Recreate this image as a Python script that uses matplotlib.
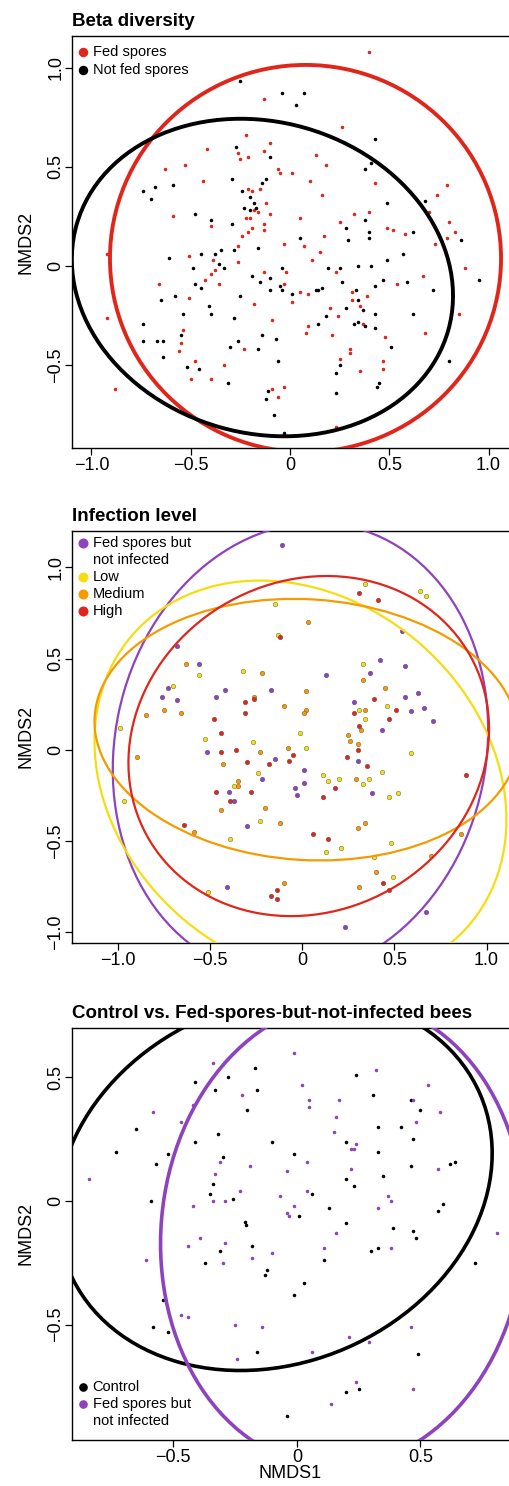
import numpy as np
import matplotlib
matplotlib.use('Agg')
import matplotlib.pyplot as plt
from matplotlib.patches import Ellipse
from matplotlib.ticker import FuncFormatter

plt.rcParams['font.family'] = ['Liberation Sans', 'DejaVu Sans']
plt.rcParams['axes.linewidth'] = 1.0

# ---- panel 1: beta diversity ----
fed_x = [0.40, -0.13, 0.26, -0.22, -0.10, -0.42, -0.13, -0.26, -0.25, -0.21, 0.13, -0.63, -0.53, -0.06, -0.05, 0.01,
         0.18, -0.44, 0.10, 0.43, -0.21, -0.19, -0.15, 0.16, 0.79, 0.74, -0.12, -0.18, -0.16, -0.10, -0.59, 0.32,
         0.40, 0.70, -0.22, -0.20, 0.05, 0.25, 0.80, -0.40, -0.13, -0.13, -0.19, -0.21, 0.49, 0.52, 0.83, -0.24,
         0.17, 0.58, 0.79, -0.26, -0.03, 0.07, 0.73, 0.15, -0.92, -0.51, -0.39, 0.11, -0.26, -0.38, -0.40, 0.88,
         -0.13, -0.02, 0.23, -0.43, -0.66, -0.36, -0.03, 0.54, 0.67, 0.05, 0.09, 0.31, -0.51, 0.39, 0.31, -0.18,
         0.01, 0.20, 0.35, 0.24, 0.85, -0.92, -0.09, 0.09, 0.08, 0.37, 0.21, 0.68, -0.54, -0.55, 0.48, -0.56,
         -0.23, 0.30, 0.30, 0.25, -0.48, -0.33, 0.47, 0.47, 0.35, -0.50, -0.40, -0.09, -0.03, -0.88, -0.06, 0.23,
         -0.39]
fed_y = [1.08, 0.84, 0.70, 0.66, 0.62, 0.59, 0.58, 0.57, 0.54, 0.55, 0.56, 0.49, 0.51, 0.49, 0.47, 0.47,
         0.51, 0.43, 0.43, 0.42, 0.39, 0.38, 0.39, 0.36, 0.41, 0.36, 0.32, 0.28, 0.27, 0.26, 0.25, 0.26,
         0.27, 0.27, 0.24, 0.24, 0.24, 0.22, 0.22, 0.20, 0.21, 0.18, 0.19, 0.17, 0.19, 0.18, 0.17, 0.15,
         0.15, 0.16, 0.14, 0.10, 0.11, 0.10, 0.11, 0.07, 0.06, 0.05, 0.03, 0.03, 0.02, -0.02, -0.04, -0.01,
         -0.03, -0.03, -0.03, -0.07, -0.09, -0.09, -0.09, -0.09, -0.05, -0.13, -0.14, -0.13, -0.16, -0.15, -0.17, -0.19,
         -0.18, -0.21, -0.20, -0.25, -0.24, -0.26, -0.27, -0.30, -0.34, -0.29, -0.35, -0.34, -0.32, -0.39, -0.36, -0.43,
         -0.42, -0.42, -0.44, -0.47, -0.48, -0.50, -0.48, -0.52, -0.53, -0.57, -0.57, -0.62, -0.61, -0.62, -0.66, -0.81,
         -0.80]
notfed_x = [-0.25, -0.04, 0.07, 0.03, 0.43, -0.27, -0.10, 0.41, 0.38, -0.29, -0.12, -0.14, -0.74, -0.68, -0.59, -0.70,
            -0.24, -0.20, -0.18, -0.17, -0.23, -0.20, -0.48, -0.40, -0.29, 0.68, 0.49, 0.28, 0.38, 0.40, 0.40, 0.05,
            0.29, 0.62, 0.86, -0.16, -0.35, -0.28, -0.38, -0.45, -0.61, 0.57, 0.49, -0.36, -0.33, -0.49, -0.04, 0.19,
            0.25, 0.34, 0.41, -0.19, -0.10, -0.15, 0.26, 0.47, 0.59, 0.95, -0.48, -0.45, -0.05, -0.04, -0.10, 0.01,
            0.13, 0.14, 0.16, 0.33, 0.43, 0.72, -0.25, -0.58, -0.65, -0.41, 0.34, -0.40, -0.54, 0.28, 0.37, 0.43,
            0.62, -0.28, 0.18, 0.14, 0.32, 0.34, 0.38, -0.74, 0.43, -0.74, -0.67, -0.64, -0.55, -0.14, -0.07, -0.26,
            -0.30, -0.16, 0.51, -0.64, -0.06, 0.80, -0.52, -0.46, 0.25, 0.23, -0.31, 0.45, 0.44, -0.11, -0.12, 0.23,
            -0.08, -0.03]
notfed_y = [0.93, 0.87, 0.87, 0.81, 0.64, 0.60, 0.55, 0.52, 0.49, 0.44, 0.44, 0.42, 0.38, 0.40, 0.41, 0.34,
            0.38, 0.35, 0.32, 0.29, 0.29, 0.28, 0.26, 0.23, 0.21, 0.33, 0.32, 0.19, 0.23, 0.17, 0.14, 0.14,
            0.13, 0.17, 0.13, 0.09, 0.08, 0.08, 0.06, 0.06, 0.04, 0.06, 0.03, 0.01, -0.01, -0.01, -0.01, -0.01,
            -0.01, 0.00, 0.00, -0.05, -0.06, -0.08, -0.08, -0.07, -0.08, -0.07, -0.09, -0.11, -0.10, -0.12, -0.12, -0.14,
            -0.12, -0.12, -0.11, -0.12, -0.10, -0.12, -0.15, -0.15, -0.17, -0.20, -0.17, -0.24, -0.24, -0.21, -0.22, -0.24,
            -0.24, -0.26, -0.25, -0.29, -0.29, -0.28, -0.30, -0.29, -0.31, -0.38, -0.38, -0.38, -0.35, -0.35, -0.37, -0.38,
            -0.41, -0.42, -0.41, -0.46, -0.48, -0.48, -0.51, -0.52, -0.50, -0.54, -0.59, -0.59, -0.61, -0.63, -0.67, -0.64,
            -0.75, -0.84]

# ---- panel 2: infection level ----
noinf_x = [-0.11, 0.54, -0.68, -0.56, -0.76, -0.73, -0.68, -0.47, -0.42, -0.17, 0.13, 0.42, 0.37, 0.56, 0.63, 0.56,
           0.59, 0.66, 0.71, 0.28, 0.43, -0.52, -0.15, -0.22, 0.01, -0.04, -0.03, 0.01, 0.30, 0.38, -0.40, -0.37,
           -0.30, -0.41, 0.67, 0.23]
noinf_y = [1.12, 0.65, 0.57, 0.47, 0.29, 0.34, 0.27, 0.29, 0.33, 0.33, 0.41, 0.49, 0.42, 0.46, 0.31, 0.29,
           0.21, 0.23, 0.16, 0.26, 0.11, -0.01, -0.05, -0.16, -0.11, -0.21, -0.25, -0.18, -0.06, -0.24, -0.23, -0.28,
           -0.42, -0.75, -0.89, -0.97]
low_x = [0.34, 0.64, 0.67, -0.15, -0.13, -0.32, -0.56, -0.70, 0.33, 0.46, 0.34, 0.31, -0.01, -0.99, -0.53, -0.27,
         0.02, 0.59, -0.24, -0.37, 0.11, 0.14, 0.20, 0.33, 0.36, 0.43, 0.52, 0.47, -0.97, -0.23, -0.39, 0.48,
         0.13, 0.21, 0.39, 0.49, -0.51]
low_y = [0.91, 0.87, 0.84, 0.80, 0.63, 0.43, 0.41, 0.35, 0.47, 0.24, 0.17, 0.22, 0.09, 0.12, 0.06, 0.04,
         0.01, -0.02, -0.13, -0.20, -0.14, -0.17, -0.16, -0.19, -0.16, -0.12, -0.24, -0.26, -0.28, -0.39, -0.49, -0.51,
         -0.56, -0.54, -0.59, -0.70, -0.78]
med_x = [0.03, -0.63, -0.22, 0.02, 0.33, 0.45, -0.26, -0.75, -0.85, -0.66, -0.10, 0.02, 0.01, 0.34, 0.32, 0.25,
         0.26, 0.30, -0.08, -0.23, -0.90, -0.43, -0.35, -0.35, 0.29, -0.44, -0.20, -0.12, -0.59, 0.30, 0.34, 0.70,
         0.86, 0.40, -0.10, 0.31]
med_y = [0.70, 0.47, 0.42, 0.32, 0.38, 0.34, 0.29, 0.22, 0.19, 0.20, 0.24, 0.22, 0.20, 0.22, 0.11, 0.08,
         0.05, 0.03, 0.01, -0.01, -0.04, -0.08, -0.17, -0.20, -0.16, -0.33, -0.32, -0.40, -0.45, -0.43, -0.40, -0.58,
         -0.46, -0.67, -0.73, -0.75]
high_x = [0.31, 0.41, -0.12, -0.31, -0.26, -0.31, -0.48, -0.44, 0.28, 0.39, 0.51, 0.47, 0.31, -0.44, -0.36, 0.30,
          -0.05, -0.07, 0.24, -0.30, -0.18, 0.35, 0.89, -0.47, -0.28, -0.39, 0.11, 0.18, -0.64, 0.06, 0.14, -0.17,
          -0.14, -0.14, 0.44, 0.47]
high_y = [0.86, 0.82, 0.62, 0.26, 0.28, 0.20, 0.17, 0.09, 0.20, 0.28, 0.22, 0.17, 0.13, -0.01, 0.00, 0.00,
          -0.03, -0.06, -0.04, -0.07, -0.08, -0.09, -0.14, -0.23, -0.23, -0.28, -0.26, -0.21, -0.41, -0.46, -0.49, -0.80,
          -0.77, -0.82, -0.73, -0.77]

# ---- panel 3: control vs fed-but-not-infected ----
ctrl_x = [-0.17, -0.28, -0.41, -0.33, -0.16, -0.20, 0.24, 0.31, 0.46, 0.50, -0.65, -0.32, -0.41, 0.33, 0.42, 0.47,
          -0.73, -0.52, -0.57, -0.30, -0.10, -0.01, 0.20, 0.33, 0.46, 0.62, 0.64, -0.34, 0.35, 0.20, 0.23, -0.35,
          -0.59, -0.26, 0.06, 0.59, 0.13, 0.01, -0.21, -0.205, 0.20, 0.39, 0.57, 0.47, 0.48, -0.31, -0.18, 0.30,
          0.33, -0.37, 0.11, 0.72, -0.12, -0.13, 0.03, -0.01, -0.54, -0.58, -0.52, -0.16, 0.49, 0.20, 0.25, -0.04]
ctrl_y = [0.54, 0.50, 0.48, 0.45, 0.45, 0.37, 0.51, 0.43, 0.41, 0.37, 0.29, 0.27, 0.24, 0.30, 0.30, 0.25,
          0.20, 0.19, 0.15, 0.18, 0.24, 0.19, 0.24, 0.20, 0.14, 0.15, 0.16, 0.07, 0.10, 0.09, 0.06, 0.03,
          0.00, 0.01, 0.03, -0.01, -0.03, -0.06, -0.085, -0.095, -0.09, -0.11, -0.04, -0.12, -0.15, -0.20, -0.18, -0.20,
          -0.19, -0.25, -0.24, -0.25, -0.28, -0.30, -0.33, -0.38, -0.40, -0.51, -0.53, -0.61, -0.62, -0.77, -0.76, -0.87]
fnoinf_x = [-0.01, -0.34, 0.32, 0.02, 0.53, -0.22, 0.05, 0.17, 0.47, -0.42, 0.05, -0.58, 0.58, 0.16, -0.47, 0.48,
            0.15, 0.24, 0.23, 0.22, -0.31, 0.04, -0.19, 0.22, -0.33, -0.04, 0.57, -0.23, -0.07, 0.04, 0.37, 0.38,
            -0.34, -0.29, -0.42, -0.01, 0.33, -0.04, -0.03, 0.16, -0.39, -0.29, 0.81, -0.44, 0.11, 0.38, -0.18, -0.10,
            -0.61, -0.30, -0.47, -0.44, -0.25, -0.14, 0.46, 0.21, 0.29, 0.06, -0.24, 0.24, 0.47, 0.14, -0.84]
fnoinf_y = [0.60, 0.56, 0.53, 0.47, 0.47, 0.43, 0.41, 0.41, 0.41, 0.39, 0.38, 0.36, 0.36, 0.34, 0.32, 0.32,
            0.28, 0.23, 0.21, 0.21, 0.16, 0.16, 0.14, 0.13, 0.11, 0.12, 0.13, 0.04, 0.02, 0.04, 0.02, 0.00,
            0.00, 0.00, -0.02, -0.02, -0.03, -0.05, -0.06, -0.13, -0.15, -0.17, -0.13, -0.18, -0.19, -0.19, -0.23, -0.21,
            -0.24, -0.25, -0.46, -0.47, -0.50, -0.51, -0.51, -0.55, -0.57, -0.61, -0.64, -0.73, -0.76, -0.82, 0.09]

# ellipse centres and shape (sxx, syy, sxy)
fed_ell = [(0.078, 0.038), (0.970, 0.951, 0.0)]
notfed_ell = [(-0.139, -0.058), (0.9216, 0.640, -0.088)]
noinf_ell = [(-0.01, 0.0), (1.038, 1.544, 0.111)]
low_ell = [(-0.01, -0.168), (1.250, 1.200, -0.241)]
med_ell = [(0.024, 0.11), (1.327, 0.514, -0.052)]
high_ell = [(0.035, 0.02), (0.958, 0.869, 0.09)]
ctrl_ell = [(-0.089, 0.073), (0.7726, 0.5746, 0.1055)]
fnoinf_ell = [(0.185, -0.133), (0.5417, 0.885, 0.029)]

RED = '#E0261B'
BLACK = '#000000'
PURPLE = '#8D42BE'
YELLOW = '#F6DD12'
ORANGE = '#F59B00'


def add_ellipse(ax, ell, color, lw):
	center, (sxx, syy, sxy) = ell
	vals, vecs = np.linalg.eigh(np.array([[sxx, sxy], [sxy, syy]]))
	angle = np.degrees(np.arctan2(vecs[1, 1], vecs[0, 1]))
	e = Ellipse(center, 2*np.sqrt(vals[1]), 2*np.sqrt(vals[0]), angle=angle,
				fill=False, edgecolor=color, linewidth=lw, zorder=3)
	ax.add_patch(e)


def add_key(ax, labels, colors, ytop, step, msize):
	row = 0
	for lab, col in zip(labels, colors):
		lines = lab.split('\n')
		ax.plot([0.025], [ytop - row*step], 'o', color=col, markersize=msize,
				transform=ax.transAxes, clip_on=False, zorder=5)
		for ln in lines:
			ax.text(0.047, ytop - row*step, ln, transform=ax.transAxes, fontsize=10.5,
					va='center', ha='left', zorder=5)
			row += 1


def fmt(v, pos):
	if abs(v) < 1e-9:
		return '0'
	return ('%.1f' % v).replace('-', '\u2212')


def style_axes(ax, xticks, yticks, xlim, ylim, title):
	ax.set_xlim(xlim)
	ax.set_ylim(ylim)
	ax.set_xticks(xticks)
	ax.set_yticks(yticks)
	ax.xaxis.set_major_formatter(FuncFormatter(fmt))
	ax.yaxis.set_major_formatter(FuncFormatter(fmt))
	ax.tick_params(direction='out', length=5, width=0.9, labelsize=13, pad=1.5)
	ax.tick_params(axis='y', labelrotation=90, pad=0.6)
	for lab in ax.get_yticklabels():
		lab.set_va('center')
	ax.spines['right'].set_visible(False)
	ax.set_ylabel('NMDS2', fontsize=13)
	ax.yaxis.set_label_coords(-0.087, 0.5)
	ax.set_title(title, loc='left', fontweight='bold', fontsize=13.5, pad=7)


fig = plt.figure(figsize=(5.09, 14.86), dpi=100)
ax1 = fig.add_axes([0.1415, 0.69852, 0.8585, 0.27725])
ax2 = fig.add_axes([0.1415, 0.36561, 0.8585, 0.27705])
ax3 = fig.add_axes([0.1415, 0.030956, 0.8585, 0.277454])

# panel 1
ax1.scatter(fed_x, fed_y, s=6.5, color=RED, linewidths=0, zorder=2)
ax1.scatter(notfed_x, notfed_y, s=6.5, color=BLACK, linewidths=0, zorder=2)
add_ellipse(ax1, fed_ell, RED, 2.8)
add_ellipse(ax1, notfed_ell, BLACK, 2.8)
style_axes(ax1, [-1, -0.5, 0, 0.5, 1], [-0.5, 0, 0.5, 1.0], (-1.098, 1.103), (-0.917, 1.159), 'Beta diversity')
add_key(ax1, ['Fed spores', 'Not fed spores'], [RED, BLACK], 0.961, 0.0437, 5.8)

# panel 2
for xs, ys, col in [(noinf_x, noinf_y, PURPLE), (low_x, low_y, YELLOW), (med_x, med_y, ORANGE), (high_x, high_y, RED)]:
	ax2.scatter(xs, ys, s=11, color=col, edgecolors='#555555', linewidths=0.3, zorder=2)
add_ellipse(ax2, noinf_ell, PURPLE, 1.6)
add_ellipse(ax2, low_ell, YELLOW, 1.6)
add_ellipse(ax2, med_ell, ORANGE, 1.6)
add_ellipse(ax2, high_ell, RED, 1.6)
style_axes(ax2, [-1, -0.5, 0, 0.5, 1], [-1, -0.5, 0, 0.5, 1.0], (-1.25, 1.122), (-1.058, 1.199), 'Infection level')
add_key(ax2, ['Fed spores but\nnot infected', 'Low', 'Medium', 'High'], [PURPLE, YELLOW, ORANGE, RED], 0.971, 0.0415, 6.2)

# panel 3
ax3.scatter(ctrl_x, ctrl_y, s=6.5, color=BLACK, linewidths=0, zorder=2)
ax3.scatter(fnoinf_x, fnoinf_y, s=6.5, color=PURPLE, linewidths=0, zorder=2)
add_ellipse(ax3, ctrl_ell, BLACK, 2.6)
add_ellipse(ax3, fnoinf_ell, PURPLE, 2.6)
style_axes(ax3, [-0.5, 0, 0.5], [-0.5, 0, 0.5], (-0.909, 0.858), (-0.966, 0.701), 'Control vs. Fed-spores-but-not-infected bees')
ax3.set_xlabel('NMDS1', fontsize=13)
ax3.xaxis.set_label_coords(0.5, -0.060)
add_key(ax3, ['Control', 'Fed spores but\nnot infected'], [BLACK, PURPLE], 0.129, 0.042, 5.2)

fig.savefig('out.png', dpi=100)
